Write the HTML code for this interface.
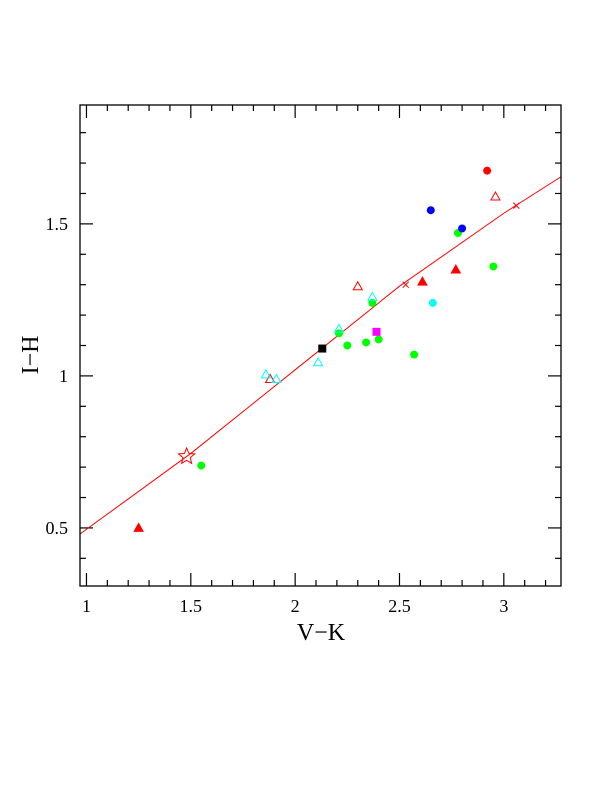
<!DOCTYPE html>
<html><head><meta charset="utf-8"><style>
html,body{margin:0;padding:0;background:#fff;}
svg text{font-family:"Liberation Serif",serif;fill:#000;}
</style></head><body>
<svg id="chart" width="612" height="792" xmlns="http://www.w3.org/2000/svg">
<rect x="0" y="0" width="612" height="792" fill="#fff"/>
<g id="ticks"></g>
<g id="fit"></g>
<g id="pts"></g>
<rect x="80" y="105" width="481" height="481" fill="none" stroke="#000" stroke-width="1.3"/>
<g id="labels"></g>
<text x="321" y="640" font-size="24" text-anchor="middle">V−K</text>
<text x="0" y="0" font-size="24" text-anchor="middle" transform="translate(38,355) rotate(-90)">I−H</text>
</svg>
<script>
const xTicks=[1,1.5,2,2.5,3];
const xTickLabels=["1","1.5","2","2.5","3"];
const yTicks=[0.5,1,1.5];
const yTickLabels=["0.5","1","1.5"];
const fitX=[0.969,1.5,2.0,2.5,3.0,3.274];
const fitY=[0.48,0.745,1.02,1.295,1.535,1.655];
const greenX=[1.55,2.21,2.25,2.34,2.37,2.40,2.57,2.78,2.95];
const greenY=[0.705,1.14,1.10,1.11,1.24,1.12,1.07,1.47,1.36];
const blueX=[2.65,2.80];
const blueY=[1.545,1.485];
const redCircleX=[2.92];
const redCircleY=[1.675];
const cyanCircleX=[2.66];
const cyanCircleY=[1.24];
const redTriX=[1.25,2.61,2.77];
const redTriY=[0.50,1.31,1.35];
const redOpenTriX=[1.88,2.30,2.96];
const redOpenTriY=[0.99,1.295,1.59];
const cyanTriX=[1.86,1.91,2.11,2.21,2.37];
const cyanTriY=[1.005,0.99,1.045,1.155,1.26];
const blackSqX=[2.13];
const blackSqY=[1.09];
const magentaSqX=[2.39];
const magentaSqY=[1.145];
const crossX=[2.53,3.06];
const crossY=[1.30,1.56];
const starX=[1.48];
const starY=[0.735];

const X0=0.969,X1=3.274,Y0=0.309,Y1=1.891,L=80,R=561,T=105,B=586;
const sx=v=>L+(v-X0)/(X1-X0)*(R-L);
const sy=v=>B-(v-Y0)/(Y1-Y0)*(B-T);
const NS="http://www.w3.org/2000/svg";
function mk(tag,parent,attrs){const e=document.createElementNS(NS,tag);for(const k in attrs)e.setAttribute(k,attrs[k]);parent.appendChild(e);return e;}
const gT=document.getElementById('ticks'),gL=document.getElementById('labels'),gF=document.getElementById('fit'),gP=document.getElementById('pts');
for(let i=10;i<=32;i++){const v=i/10;const px=sx(v);const maj=i%5===0;const len=maj?13:6;
 const a=mk('line',gT,{x1:px,x2:px,y1:B,y2:B-len,stroke:'#000','stroke-width':1.2});
 
 
 const b=mk('line',gT,{x1:px,x2:px,y1:T,y2:T+len,stroke:'#000','stroke-width':1.2});
 
 }
for(let i=4;i<=18;i++){const v=i/10;const py=sy(v);const maj=i%5===0;const len=maj?13:6;
 const a=mk('line',gT,{x1:L,x2:L+len,y1:py,y2:py,stroke:'#000','stroke-width':1.2});
 
 
 const b=mk('line',gT,{x1:R,x2:R-len,y1:py,y2:py,stroke:'#000','stroke-width':1.2});
 
 }
xTicks.forEach((v,i)=>{const t=mk('text',gL,{x:sx(v),y:612,'font-size':18,'text-anchor':'middle'});t.textContent=xTickLabels[i];
 
 });
yTicks.forEach((v,i)=>{const t=mk('text',gL,{x:68,y:sy(v)+6,'font-size':18,'text-anchor':'end'});t.textContent=yTickLabels[i];
 
 });
const fl=mk('polyline',gF,{points:fitX.map((v,i)=>sx(v)+','+sy(fitY[i])).join(' '),fill:'none',stroke:'#f00','stroke-width':1});


function circles(xs,ys,col,name){xs.forEach((v,i)=>{const c=mk('circle',gP,{cx:sx(v),cy:sy(ys[i]),r:4,fill:col});
 
 });}
function tris(xs,ys,col,filled,name){xs.forEach((v,i)=>{const x=sx(v),y=sy(ys[i]);
 const p=mk('polygon',gP,{points:`${x},${y-4.5} ${x-4.5},${y+3.5} ${x+4.5},${y+3.5}`,fill:filled?col:'none',stroke:col,'stroke-width':1});
 
 });}
function squares(xs,ys,col,name){xs.forEach((v,i)=>{const r=mk('rect',gP,{x:sx(v)-4,y:sy(ys[i])-4,width:8,height:8,fill:col});
 
 });}
circles(greenX,greenY,'#0f0','green-point');
circles(blueX,blueY,'#00f','blue-point');
circles(redCircleX,redCircleY,'#f00','red-point');
circles(cyanCircleX,cyanCircleY,'#0ff','cyan-point');
tris(redTriX,redTriY,'#f00',true,'red-filled-triangle');
tris(redOpenTriX,redOpenTriY,'#f00',false,'red-open-triangle');
tris(cyanTriX,cyanTriY,'#0ff',false,'cyan-open-triangle');
squares(blackSqX,blackSqY,'#000','black-square');
squares(magentaSqX,magentaSqY,'#f0f','magenta-square');
crossX.forEach((v,i)=>{const x=sx(v),y=sy(crossY[i]);
 const p=mk('path',gP,{d:`M${x-3},${y-3}L${x+3},${y+3}M${x-3},${y+3}L${x+3},${y-3}`,stroke:'#f00','stroke-width':1,fill:'none'});
 
 });
starX.forEach((v,i)=>{const x=sx(v),y=sy(starY[i]);
 let pts=[];for(let k=0;k<10;k++){const a=-Math.PI/2+k*Math.PI/5;const r=k%2?3.8:8.5;pts.push((x+r*Math.cos(a)).toFixed(2)+','+(y+r*Math.sin(a)).toFixed(2));}
 const s=mk('polygon',gP,{points:pts.join(' '),fill:'none',stroke:'#f00','stroke-width':1});
 
 });
</script>
</body></html>
